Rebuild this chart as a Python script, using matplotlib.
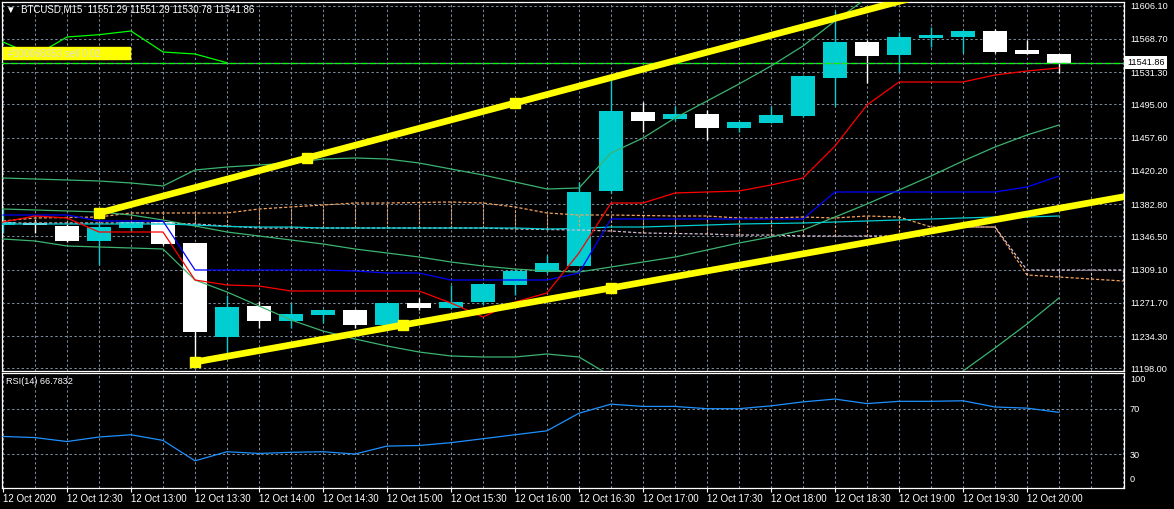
import numpy as np
import matplotlib
matplotlib.use("Agg")
import matplotlib.pyplot as plt
import matplotlib.transforms as mtransforms
from matplotlib.patches import Rectangle

plt.rcParams['font.family'] = ['Liberation Sans', 'DejaVu Sans']

# ---------------- data ----------------
symbol = "BTCUSD,M15"
time_labels = ["12 Oct 2020", "12 Oct 12:30", "12 Oct 13:00", "12 Oct 13:30", "12 Oct 14:00",
               "12 Oct 14:30", "12 Oct 15:00", "12 Oct 15:30", "12 Oct 16:00", "12 Oct 16:30",
               "12 Oct 17:00", "12 Oct 17:30", "12 Oct 18:00", "12 Oct 18:30", "12 Oct 19:00",
               "12 Oct 19:30", "12 Oct 20:00"]

opens = [11359.28, 11361.86, 11358.15, 11341.27, 11356.24, 11362.99, 11338.68, 11233.56,
         11268.11, 11251.57, 11258.32, 11263.61, 11246.73, 11271.15, 11266.20, 11272.95,
         11291.75, 11306.72, 11313.47, 11397.54, 11486.46, 11478.24, 11484.21, 11468.79,
         11474.41, 11481.96, 11525.06, 11565.24, 11550.95, 11570.08, 11570.87, 11577.62,
         11556.24, 11551.29]
highs = [11377.29, 11366.03, 11360.40, 11361.53, 11363.78, 11364.91, 11339.02, 11280.49,
         11273.74, 11271.49, 11264.73, 11264.73, 11272.61, 11277.12, 11291.75, 11294.00,
         11309.76, 11325.51, 11407.67, 11522.48, 11498.05, 11493.21, 11488.71, 11476.32,
         11493.21, 11528.10, 11600.00, 11567.50, 11576.50, 11582.46, 11578.75, 11579.53,
         11567.49, 11551.29]
lows = [11350.27, 11350.27, 11340.14, 11314.26, 11352.53, 11336.77, 11208.47, 11215.22,
        11243.35, 11243.35, 11248.98, 11243.35, 11244.48, 11263.61, 11264.73, 11269.24,
        11280.49, 11305.26, 11313.13, 11395.29, 11464.29, 11476.32, 11454.95, 11464.29,
        11474.08, 11480.83, 11493.21, 11519.43, 11531.82, 11559.95, 11553.20, 11552.53,
        11551.74, 11530.78]
closes = [11362.31, 11359.61, 11341.27, 11357.36, 11362.99, 11337.89, 11239.19, 11267.33,
          11251.57, 11259.11, 11263.61, 11246.73, 11271.15, 11266.20, 11272.28, 11292.88,
          11307.50, 11316.85, 11396.76, 11487.58, 11476.67, 11484.21, 11468.79, 11475.20,
          11483.08, 11527.05, 11565.24, 11549.82, 11570.87, 11573.46, 11577.62, 11553.99,
          11551.74, 11541.86]

# Ichimoku
tenkan = [11362.65, 11369.41, 11367.16, 11351.40, 11351.40, 11351.40, 11297.38, 11291.75,
          11290.62, 11285.00, 11285.00, 11285.00, 11285.00, 11285.00, 11271.49, 11255.73,
          11272.61, 11282.75, 11327.76, 11384.04, 11384.04, 11395.29, 11396.42, 11397.54,
          11404.30, 11412.18, 11448.20, 11494.34, 11520.23, 11520.23, 11520.23, 11528.10,
          11532.60, 11535.98]
kijun = [11370.53, 11370.53, 11370.53, 11363.78, 11363.78, 11363.78, 11308.63, 11308.63,
         11308.63, 11308.63, 11308.63, 11307.50, 11305.25, 11305.25, 11297.38, 11297.38,
         11297.38, 11297.38, 11305.25, 11366.03, 11366.03, 11366.03, 11366.03, 11366.03,
         11366.03, 11366.03, 11396.42, 11396.42, 11396.42, 11396.42, 11396.42, 11396.42,
         11402.05, 11414.43]
span_a = [11363.78, 11367.16, 11367.72, 11368.28, 11372.79, 11372.79, 11372.79, 11372.79,
          11377.29, 11379.54, 11381.79, 11384.04, 11384.04, 11384.60, 11385.17, 11384.04,
          11379.54, 11372.79, 11370.53, 11370.53, 11369.97, 11369.41, 11369.41, 11367.16,
          11367.16, 11368.28, 11367.16, 11369.41, 11368.28, 11357.02, 11357.02, 11357.02,
          11303.00, 11300.75, 11298.50, 11296.25]
span_b = [11361.53, 11361.53, 11361.53, 11361.53, 11361.53, 11361.53, 11360.40, 11358.15,
          11355.90, 11355.90, 11355.90, 11355.90, 11355.90, 11355.90, 11355.90, 11355.90,
          11354.78, 11354.21, 11353.65, 11352.52, 11350.27, 11349.71, 11349.15, 11348.02,
          11348.02, 11346.90, 11346.90, 11346.90, 11346.90, 11352.52, 11357.02, 11357.02,
          11308.63, 11308.63, 11308.63, 11308.63]
chikou_shift = 26

# moving average (cyan)
ma_line = [11360.40, 11360.40, 11360.40, 11360.40, 11360.40, 11360.40, 11359.28, 11357.59,
           11357.02, 11357.02, 11355.90, 11355.90, 11355.90, 11355.90, 11355.90, 11355.90,
           11355.90, 11354.78, 11355.34, 11357.02, 11357.02, 11358.15, 11359.28, 11360.40,
           11360.97, 11361.53, 11362.65, 11363.78, 11364.91, 11366.03, 11367.16, 11368.28,
           11368.28, 11369.41]

# Bollinger bands
nan = np.nan
bb_upper = [11412.18, 11411.05, 11409.93, 11408.80, 11406.55, 11403.17, 11421.18, 11424.55,
            11426.80, 11429.06, 11433.56, 11434.69, 11433.56, 11429.06, 11422.31, 11415.55,
            11407.68, 11399.80, 11400.92, 11440.31, 11457.20, 11479.71, 11498.84, 11517.97,
            11538.23, 11560.74, 11588.88, 11614.77, nan, nan, nan, nan, nan, nan]
bb_mid = [11377.29, 11376.16, 11375.04, 11373.91, 11370.53, 11364.91, 11358.15, 11351.40,
          11346.90, 11342.40, 11337.89, 11332.27, 11327.76, 11323.26, 11317.63, 11313.13,
          11309.76, 11307.50, 11306.38, 11312.00, 11317.63, 11323.26, 11331.14, 11339.02,
          11345.77, 11353.65, 11368.28, 11382.91, 11398.67, 11414.43, 11431.31, 11447.07,
          11460.57, 11471.83]
bb_lower = [11343.52, 11341.27, 11335.64, 11334.52, 11333.39, 11332.27, 11297.38, 11283.87,
            11268.11, 11252.35, 11239.97, 11230.97, 11223.09, 11216.34, 11211.84, 11210.71,
            11210.71, 11214.09, 11210.71, 11189.33, 11178.07, nan, nan, nan,
            nan, nan, nan, nan, nan, 11167.94, 11194.95, 11220.84, 11247.86, 11277.12]

rsi = [45.5, 44.5, 41.0, 45.0, 47.0, 42.0, 24.0, 32.0, 30.5, 31.5, 32.0, 30.0, 37.0, 37.5,
       40.0, 43.5, 47.0, 50.5, 66.0, 74.0, 72.0, 72.0, 70.0, 70.0, 72.5, 76.0, 78.5, 74.5,
       76.5, 76.5, 77.0, 71.5, 70.5, 66.7832]
rsi_period = 14
rsi_levels = [70, 30]

price_ticks = [11606.10, 11568.70, 11531.30, 11495.00, 11457.60, 11420.20, 11382.80,
               11346.50, 11309.10, 11271.70, 11234.30, 11198.00]

# trend channel anchors (bar index, price)
trend_hi_bars = [3, 16]
trend_hi_prices = [11372.79, 11496.59]
trend_lo_bars = [6, 19]
trend_lo_prices = [11205.08, 11288.37]

order_label = "#100068353 sell 0.02"

# ---------------- style ----------------
W, H, DPI = 1174, 509, 100
BG = 'black'
GRID = '#778899'
BULL = '#00CED1'
BEAR = '#FFFFFF'
BBC = '#3CB371'
FS = 6.6
FS_T = 7.0


def fx(px):
    return px / W


def fy(py):
    return 1 - py / H


fig = plt.figure(figsize=(W / DPI, H / DPI), dpi=DPI, facecolor=BG)
ax = fig.add_axes([fx(2), fy(371), fx(1124) - fx(2), fy(2) - fy(371)], facecolor=BG)
rx = fig.add_axes([fx(2), fy(488), fx(1124) - fx(2), fy(373) - fy(488)], facecolor=BG, sharex=ax)

ax.set_xlim(-1 / 32, 1121 / 32)
ax.set_ylim(11194.95, 11610.26)
rx.set_ylim(0, 101.5)

n_future = len(span_a)
rx.set_xticks(np.arange(0, len(time_labels) * 2, 2))
rx.set_xticks(np.arange(0, n_future), minor=True)
rx.set_xticklabels(time_labels)
for t in rx.get_xticklabels():
    t.set_ha('left')
rx.tick_params(axis='x', which='major', length=3, width=0.8, color='white', pad=1.5,
               labelsize=FS_T, labelcolor='white')
rx.tick_params(axis='x', which='minor', length=0)
ax.tick_params(axis='x', which='both', length=0, labelbottom=False)

grid_kw = dict(color=GRID, lw=0.75, ls=(0, (2.3, 2.3)))
for a in (ax, rx):
    a.grid(True, which='both', axis='x', **grid_kw)
    a.grid(True, which='major', axis='y', **grid_kw)
    a.set_axisbelow(True)
    for s in a.spines.values():
        s.set_color('white')
        s.set_linewidth(0.9)

ax.yaxis.tick_right()
ax.set_yticks(price_ticks)
ax.set_yticklabels([f"{v:.2f}" for v in price_ticks])
ax.tick_params(axis='y', which='both', length=0, pad=4.3, labelsize=FS, labelcolor='white')

rx.yaxis.tick_right()
rx.set_yticks(rsi_levels)
rx.set_yticklabels([str(v) for v in rsi_levels])
rx.tick_params(axis='y', which='both', length=0, pad=4.3, labelsize=FS, labelcolor='white')
rx.annotate('100', xy=(1, 100), xycoords=('axes fraction', 'data'), xytext=(4.3, -3.8),
            textcoords='offset points', va='center', ha='left', color='white', fontsize=FS,
            annotation_clip=False)
rx.annotate('0', xy=(1, 0), xycoords=('axes fraction', 'data'), xytext=(4.3, 5.8),
            textcoords='offset points', va='center', ha='left', color='white', fontsize=FS,
            annotation_clip=False)

# ---------------- candles ----------------
o = np.array(opens)
h = np.array(highs)
l = np.array(lows)
c = np.array(closes)
x = np.arange(len(o))
cols = np.where(c >= o, BULL, BEAR)
ax.vlines(x, l, h, colors=cols, lw=1.0, zorder=2)
ax.bar(x, np.maximum(np.abs(c - o), 1.3), bottom=np.minimum(o, c), width=0.78,
       color=cols, lw=0, zorder=3, antialiased=False)

# ---------------- indicators ----------------
lw1 = 0.9
xf = np.arange(n_future)
sa = np.array(span_a)
sb = np.array(span_b)
cloud_cols = np.where(sa >= sb, '#F4A460', '#D8BFD8')
ax.vlines(xf, np.minimum(sa, sb), np.maximum(sa, sb), colors=cloud_cols, lw=0.8,
          linestyles=(0, (2.2, 1.6)), zorder=4)
ax.plot(xf, sb, color='#D8BFD8', lw=lw1, ls=(0, (2.5, 1.6)), zorder=4)
ax.plot(xf, sa, color='#F4A460', lw=lw1, ls=(0, (2.5, 1.6)), zorder=4)

ax.plot(x, bb_upper, color=BBC, lw=lw1, zorder=4)
ax.plot(x, bb_mid, color=BBC, lw=lw1, zorder=4)
ax.plot(x, bb_lower, color=BBC, lw=lw1, zorder=4)
ax.plot(x, ma_line, color=BULL, lw=lw1, zorder=4)
ax.plot(x, kijun, color='#0000FF', lw=lw1, zorder=4)
ax.plot(x, tenkan, color='#FF0000', lw=lw1, zorder=4)
chikou = c[chikou_shift:]
ax.plot(np.arange(len(chikou)), chikou, color='#00FF00', lw=lw1, zorder=4)

# bid / order line
bid = closes[-1]
ax.axhline(bid, color=GRID, lw=0.9, zorder=4)
ax.axhline(bid, color='#00FF00', lw=0.9, ls=(0, (5, 2)), zorder=4)

# trend channel (rays to the right)
for bars, prices in ((trend_hi_bars, trend_hi_prices), (trend_lo_bars, trend_lo_prices)):
    slope = (prices[1] - prices[0]) / (bars[1] - bars[0])
    x_end = n_future + 1
    ax.plot([bars[0], x_end], [prices[0], prices[0] + slope * (x_end - bars[0])],
            color='#FFFF00', lw=4.8, solid_capstyle='butt', zorder=6)
    mids = [bars[0], (bars[0] + bars[1]) / 2, bars[1]]
    ax.plot(mids, [prices[0] + slope * (m - bars[0]) for m in mids], 's', ms=7,
            color='#FFFF00', mec='#FFFF00', zorder=7)

# current price box
trans = mtransforms.blended_transform_factory(ax.transAxes, ax.transData)
ax.text(1.0027, bid, f"{bid:.2f}", transform=trans, ha='left', va='center', fontsize=FS,
        color='black', clip_on=False, zorder=10,
        bbox=dict(boxstyle='square,pad=0.22', fc='white', ec='none'))

# order label
fig.add_artist(Rectangle((fx(3), fy(59)), (127) / W, 12 / H, transform=fig.transFigure,
                         color='#FFFF00', zorder=8))
fig.text(fx(8), fy(54), order_label, color='#dcdcdc', fontsize=FS_T, va='center', ha='left',
         zorder=9)

# RSI
rx.plot(x, rsi, color='#1E90FF', lw=0.9, zorder=4)

# texts
fig.text(fx(6), fy(10), f"\u25BC  {symbol}  {opens[-1]:.2f} {highs[-1]:.2f} {lows[-1]:.2f} {closes[-1]:.2f}",
         color='white', fontsize=FS_T, va='center', ha='left', zorder=10)
fig.text(fx(6), fy(382), f"RSI({rsi_period}) {rsi[-1]:.4f}", color='white', fontsize=FS,
         va='center', ha='left', zorder=10)

fig.savefig("out.png", dpi=DPI, facecolor=BG)
